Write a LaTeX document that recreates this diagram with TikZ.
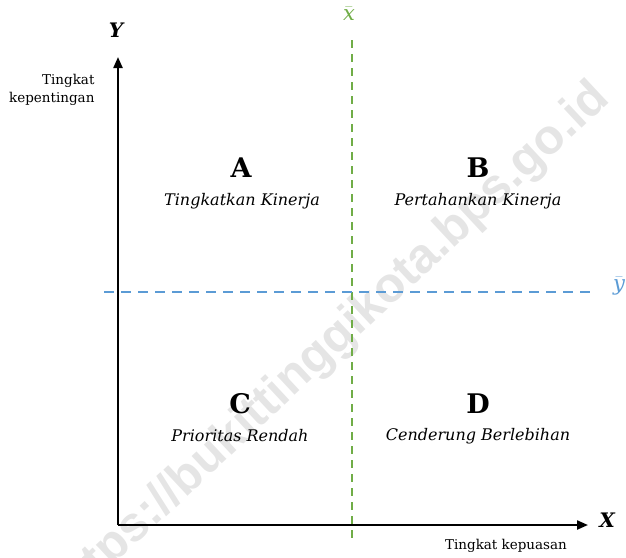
\documentclass[tikz,border=0pt]{standalone}
\usepackage{fontspec}
\setmainfont{DejaVu Serif}
\setsansfont{Liberation Sans}
\usetikzlibrary{arrows.meta}
\definecolor{offgreen}{HTML}{70AD47}
\definecolor{offblue}{HTML}{5B9BD5}
\tikzset{
  axis/.style={line width=2.2pt,-{Stealth[length=11pt,width=9pt,inset=0pt]}},
  quadletter/.style={font=\fontsize{27}{30}\selectfont\bfseries},
  quadtext/.style={font=\fontsize{16}{19}\selectfont\itshape},
  axlabel/.style={font=\fontsize{13.5}{18}\selectfont},
  axletter/.style={font=\fontsize{20}{22}\selectfont\bfseries\itshape},
  barlabel/.style={font=\fontsize{21}{24}\selectfont},
}
\begin{document}
\begin{tikzpicture}[x=1pt,y=-1pt]
\useasboundingbox (0,0) rectangle (626,557);
% watermark
\begin{scope}
\clip (0,0) rectangle (626,557);
\node[rotate=43,text=black!10,font=\sffamily\bfseries\fontsize{49}{52}\selectfont] (wm) at (330,346) {https://bukittinggikota.bps.go.id};
\end{scope}
% coordinates
\coordinate (o) at (118,525);
\coordinate (ytip) at (118,57);
\coordinate (xtip) at (588,525);
\coordinate (gtop) at (352,40);
\coordinate (gbot) at (352,540);
\coordinate (bl) at (104,292);
\coordinate (br) at (596,292);
% mean lines
\draw[offgreen,line width=1.8pt,dash pattern=on 8pt off 6pt] (gtop) -- (gbot);
\draw[offblue,line width=1.8pt,dash pattern=on 10pt off 7pt] (bl) -- (br);
% axes
\draw[axis] (o) -- (ytip);
\draw[axis] (o) -- (xtip);
% labels
\node[axletter] (Y) at (116,30) {Y};
\node[axletter] (X) at (607,520) {X};
\node[axlabel,align=right,anchor=east] (ylab) at (98,90) {Tingkat\\kepentingan};
\node[axlabel] (xlab) at (506,546) {Tingkat kepuasan};
\node[text=offgreen,barlabel] (xbar) at (349,14) {$\bar{\mbox{\itshape x}}$};
\node[text=offblue,barlabel] (ybar) at (619,286) {$\bar{\mbox{\itshape y}}$};
% quadrants
\node[quadletter] (A) at (241,168) {A};
\node[quadtext] (At) at (242,201) {Tingkatkan Kinerja};
\node[quadletter] (B) at (478,168) {B};
\node[quadtext] (Bt) at (478,201) {Pertahankan Kinerja};
\node[quadletter] (C) at (240,404) {C};
\node[quadtext] (Ct) at (240,436) {Prioritas Rendah};
\node[quadletter] (D) at (478,404) {D};
\node[quadtext] (Dt) at (478,436) {Cenderung Berlebihan};
\end{tikzpicture}
\end{document}
